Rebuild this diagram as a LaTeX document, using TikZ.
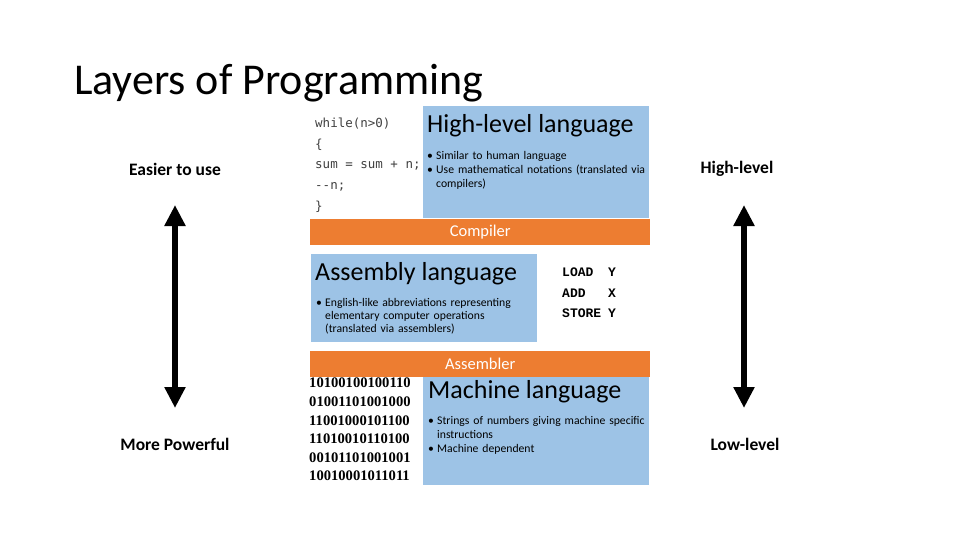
\documentclass[tikz,border=0pt]{standalone}
\usepackage{fontspec}
\setmainfont{Carlito}
\newfontfamily\codefont{DejaVu Sans Mono}
\newfontfamily\asmfont{Liberation Mono}
\newfontfamily\binfont{Liberation Serif}
\usetikzlibrary{arrows.meta}
\definecolor{boxblue}{HTML}{9DC3E6}
\definecolor{barorange}{HTML}{ED7D31}
\newcommand{\bitem}[1]{\par\hyphenpenalty=10000\relax\exhyphenpenalty=10000\relax\hangindent=9pt\hangafter=1\noindent\makebox[9pt][l]{\textbullet}#1\par}
\tikzset{
  langbox/.style={fill=boxblue, draw=none, anchor=north west, inner sep=0pt},
  bar/.style={fill=barorange, draw=none, anchor=north west, inner sep=0pt},
  bartext/.style={text=white, inner sep=0pt, font=\fontsize{16.5}{19}\selectfont},
  boxtitle/.style={anchor=west, inner sep=0pt, font=\fontsize{26}{30}\selectfont},
  bullets/.style={anchor=north west, inner sep=0pt, align=left, font=\fontsize{11.7}{14}\selectfont},
  sidelabel/.style={inner sep=0pt, font=\fontsize{17.5}{20}\selectfont\bfseries},
  bigarrow/.style={line width=6pt, {Triangle[width=20pt,length=21pt]}-{Triangle[width=20pt,length=21pt]}},
  codetext/.style={anchor=north west, inner sep=0pt, align=left, text=black!75, font=\codefont\fontsize{12.5}{20.6}\selectfont},
  bintext/.style={anchor=north west, inner sep=0pt, align=left, font=\binfont\bfseries\fontsize{14.6}{18.6}\selectfont},
  asmtext/.style={anchor=north west, inner sep=0pt, align=left, font=\asmfont\bfseries\fontsize{13}{20.5}\selectfont}
}
\begin{document}
\begin{tikzpicture}[x=1pt,y=-1pt]
\useasboundingbox (0,0) rectangle (960,540);
% title
\node[anchor=base west, inner sep=0pt, font=\fontsize{44}{50}\selectfont] (title) at (74,95) {Layers of Programming};
% high-level
\node[codetext] (code) at (315,118) {while(n>0)\\\{\\sum = sum + n;\\-{}-n;\\\}};
\node[langbox, minimum width=226, minimum height=112] (hlbox) at (423,106) {};
\node[boxtitle] (hltitle) at (427,126) {High-level language};
\node[bullets, text width=224pt] (hlbul) at (427,145) {\bitem{Similar to human language}\bitem{Use mathematical notations (translated via compilers)}};
% compiler
\node[bar, minimum width=340, minimum height=26] (comp) at (310,219) {};
\node[bartext] (comptext) at (comp.center) {Compiler};
% assembly
\node[langbox, minimum width=226, minimum height=88] (asmbox) at (311,254) {};
\node[boxtitle] (asmtitle) at (315,274) {Assembly language};
\node[bullets, text width=210pt, font=\fontsize{11.7}{13}\selectfont] (asmbul) at (316,293) {\bitem{English-like abbreviations representing elementary computer operations (translated via assemblers)}};
\node[asmtext] (asmcode) at (562,262) {\begin{tabular}{@{}l@{\hspace{7pt}}l@{}}LOAD & Y\\ADD & X\\STORE & Y\end{tabular}};
% machine
\node[bintext] (bin) at (309,378) {10100100100110\\01001101001000\\11001000101100\\11010010110100\\00101101001001\\10010001011011};
\node[langbox, minimum width=226, minimum height=108] (mlbox) at (423,377) {};
\node[boxtitle] (mltitle) at (428,392) {Machine language};
\node[bullets, text width=220pt] (mlbul) at (428,410) {\bitem{Strings of numbers giving machine specific instructions}\bitem{Machine dependent}};
% assembler bar
\node[bar, minimum width=340, minimum height=26] (asmbar) at (310,351) {};
\node[bartext] (asmbartext) at (asmbar.center) {Assembler};
% side labels and arrows
\node[sidelabel] (easier) at (175,169) {Easier to use};
\node[sidelabel] (powerful) at (175,444) {More Powerful};
\node[sidelabel] (high) at (737,169) {High-level};
\node[sidelabel] (low) at (745,444) {Low-level};
\coordinate (la) at (175,205);
\coordinate (lb) at (175,408);
\coordinate (ra) at (744,205);
\coordinate (rb) at (744,408);
\draw[bigarrow] (la) -- (lb);
\draw[bigarrow] (ra) -- (rb);
\end{tikzpicture}
\end{document}
